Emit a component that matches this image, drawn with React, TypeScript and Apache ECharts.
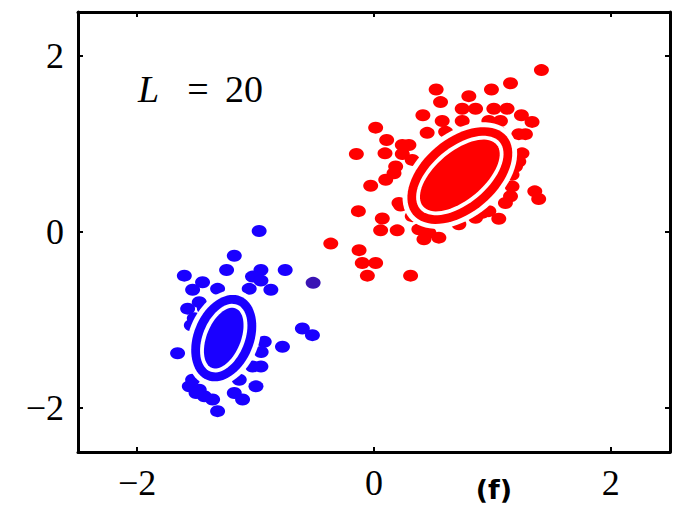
import React, { useEffect, useRef } from "react";
import * as echarts from "echarts";

const xTicks = [-2, 0, 2];
const yTicks = [-2, 0, 2];

const redPoints: number[][] = [
  [1.414, 1.84], [1.153, 1.69], [0.992, 1.619], [0.525, 1.619], [0.801, 1.544],
  [0.562, 1.476], [0.745, 1.401], [0.858, 1.401], [1.012, 1.401], [1.124, 1.401],
  [0.413, 1.326], [1.245, 1.326], [1.335, 1.251], [0.576, 1.262], [0.745, 1.262],
  [0.97, 1.262], [1.068, 1.262], [0.014, 1.186], [0.449, 1.127], [1.223, 1.112],
  [1.279, 1.112], [0.107, 1.045], [0.295, 0.988], [-0.149, 0.887], [0.093, 0.894],
  [0.239, 0.887], [1.25, 0.894], [1.223, 0.8], [0.183, 0.744], [0.323, 0.819],
  [0.099, 0.594], [-0.028, 0.526], [1.166, 0.65], [1.166, 0.518], [1.153, 0.406],
  [1.358, 0.462], [1.391, 0.375], [-0.132, 0.237], [0.225, 0.301], [0.07, 0.154],
  [0.056, 0.019], [0.196, 0.019], [0.379, 0.03], [0.464, -0.008], [0.548, -0.064],
  [0.422, -0.082], [0.717, 0.087], [0.858, 0.161], [0.913, 0.217], [1.054, 0.15],
  [-0.365, -0.132], [-0.126, -0.206], [-0.099, -0.353], [0.014, -0.353], [-0.056, -0.496],
  [0.309, -0.496], [1.096, 1.045], [1.195, 0.744], [1.11, 0.33], [0.97, 0.237],
  [0.323, 0.18], [0.211, 0.33], [0.169, 0.668], [0.239, 0.988], [0.605, 1.138],
  [1.054, 1.138], [0.725, 0.642], [0.632, 0.575], [0.801, 0.744], [0.675, 0.744],
  [0.784, 0.518],
];

const bluePoints: number[][] = [
  [-0.97, 0.011], [-1.18, -0.27], [-1.245, -0.432], [-1.602, -0.496], [-0.955, -0.432],
  [-0.75, -0.432], [-1.026, -0.507], [-1.448, -0.571], [-1.532, -0.657], [-1.321, -0.646],
  [-1.054, -0.646], [-0.955, -0.552], [-0.871, -0.657], [-1.574, -0.871], [-1.476, -0.797],
  [-1.518, -0.98], [-0.605, -1.096], [-0.52, -1.172], [-0.773, -1.304], [-0.927, -1.247],
  [-1.659, -1.378], [-0.955, -1.529], [-1.026, -1.529], [-0.997, -1.754], [-1.138, -1.679],
  [-1.18, -1.829], [-1.11, -1.904], [-1.532, -1.679], [-1.56, -1.754], [-1.476, -1.792],
  [-1.433, -1.867], [-1.363, -1.904], [-1.321, -2.036], [-1.503, -1.829], [-1.543, -1.059],
  [-0.953, -1.363], [-1.433, -0.868], [-1.273, -1.206], [-1.239, -1.059], [-1.307, -1.341],
];

const mixedPoints: number[][] = [[-0.514, -0.578]];

// cluster centres (data units) of the contour ellipses
const clusterCenters: number[][] = [
  [0.725, 0.642],
  [-1.269, -1.206],
];
const clusterColors = ["#ff0000", "#1a00ff"];

// ellipse drawing style (pixels / degrees)
const ellipseStyle = [
  { a: 61, b: 37, angle: 40 },
  { a: 45, b: 30, angle: 68 },
];

const fmt = (v: number) => (v < 0 ? "\u2212" + Math.abs(v) : String(v));

function ellipsePoints(cx: number, cy: number, a: number, b: number, deg: number) {
  const th = (deg * Math.PI) / 180;
  const pts: number[][] = [];
  const n = 72;
  for (let i = 0; i < n; i++) {
    const t = (i / n) * Math.PI * 2;
    const ex = a * Math.cos(t);
    const ey = b * Math.sin(t);
    pts.push([
      cx + ex * Math.cos(th) - ey * Math.sin(th),
      cy - (ex * Math.sin(th) + ey * Math.cos(th)),
    ]);
  }
  return pts;
}

export default function App() {
  const ref = useRef<HTMLDivElement>(null);
  useEffect(() => {
    if (!ref.current) return;
    const chart = echarts.init(ref.current, undefined, { renderer: "svg" });
    const labelFont = {
      fontFamily: "Liberation Serif",
      fontSize: 36,
      color: "#000",
    };
    const axisBase = {
      type: "value" as const,
      min: -2.5,
      max: 2.5,
      splitLine: { show: false },
      axisLine: { show: true, onZero: false, lineStyle: { color: "#000", width: 3 } },
    };
    const tick = (vals: number[]) => ({
      show: true,
      inside: true,
      length: 5,
      customValues: vals,
      lineStyle: { color: "#000", width: 2 },
    });
    const serif = { fontFamily: "Liberation Serif", fontSize: 38, fill: "#000", verticalAlign: "middle" };
    chart.setOption({
      animation: false,
      backgroundColor: "#fff",
      grid: { left: 78, right: 4, top: 12, bottom: 59, show: false },
      xAxis: [
        {
          ...axisBase,
          position: "bottom",
          axisTick: tick(xTicks),
          axisLabel: { ...labelFont, margin: 13, customValues: xTicks, formatter: fmt },
        },
        { ...axisBase, position: "top", axisTick: tick(xTicks), axisLabel: { show: false } },
      ],
      yAxis: [
        {
          ...axisBase,
          position: "left",
          axisTick: tick(yTicks),
          axisLabel: { ...labelFont, margin: 14, customValues: yTicks, formatter: fmt },
        },
        { ...axisBase, position: "right", axisTick: tick(yTicks), axisLabel: { show: false } },
      ],
      series: [
        {
          type: "scatter",
          data: redPoints,
          symbol: "circle",
          symbolSize: [15, 12],
          itemStyle: { color: "#ff0000", opacity: 1 },
          z: 2,
        },
        {
          type: "scatter",
          data: bluePoints,
          symbol: "circle",
          symbolSize: [15, 12],
          itemStyle: { color: "#1a00ff", opacity: 1 },
          z: 2,
        },
        {
          type: "scatter",
          data: mixedPoints,
          symbol: "circle",
          symbolSize: [15, 12],
          itemStyle: { color: "#3a14b4", opacity: 1 },
          z: 2,
        },
        {
          type: "custom",
          data: clusterCenters,
          z: 3,
          renderItem: (params: any, api: any) => {
            const i = params.dataIndex;
            const c = api.coord([api.value(0), api.value(1)]);
            const s = ellipseStyle[i];
            const col = clusterColors[i];
            const layers = [
              { d: 5, fill: "#fff" },
              { d: 0, fill: col },
              { d: -9, fill: "#fff" },
              { d: -13, fill: col },
            ];
            return {
              type: "group",
              children: layers.map((l) => ({
                type: "polygon",
                shape: { points: ellipsePoints(c[0], c[1], s.a + l.d, s.b + l.d, s.angle) },
                style: { fill: l.fill },
              })),
            };
          },
        },
      ],
      graphic: [
        { type: "text", x: 138, y: 89, style: { ...serif, text: "L", fontStyle: "italic" } },
        { type: "text", x: 198, y: 89, style: { ...serif, text: "=", align: "center" } },
        { type: "text", x: 225, y: 89, style: { ...serif, text: "20" } },
        {
          type: "text",
          x: 494,
          y: 489,
          style: {
            text: "(f)",
            fontFamily: "DejaVu Sans",
            fontWeight: "bold",
            fontSize: 27,
            fill: "#000",
            align: "center",
            verticalAlign: "middle",
          },
        },
      ],
    });
    return () => chart.dispose();
  }, []);
  return (
    <div
      ref={ref}
      style={{ position: "fixed", left: 0, top: 0, width: 674, height: 511 }}
    />
  );
}
